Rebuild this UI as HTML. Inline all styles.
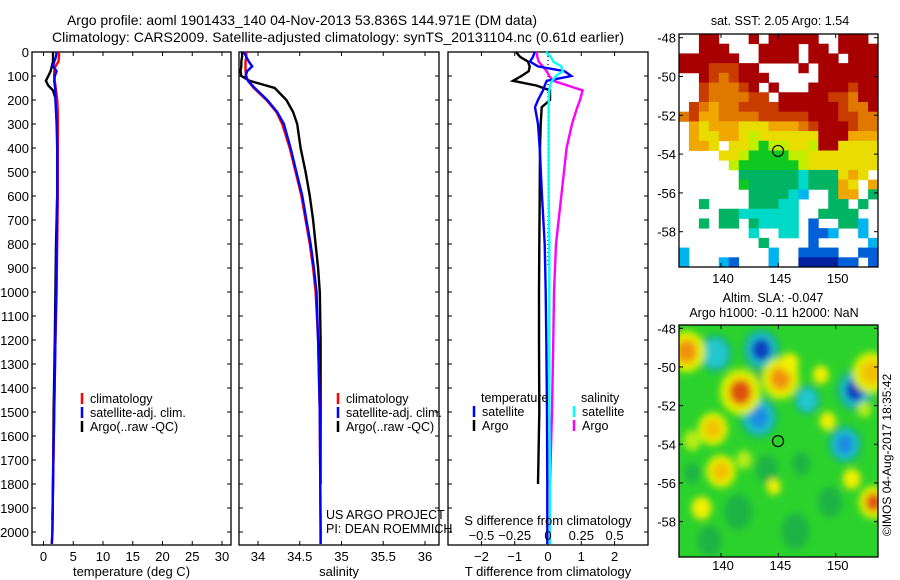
<!DOCTYPE html>
<html><head><meta charset="utf-8"><style>
html,body{margin:0;padding:0;background:#fff;}
svg{display:block;font-family:"Liberation Sans",sans-serif;}
</style></head><body>
<svg id="fig" width="900" height="580" viewBox="0 0 900 580" xmlns="http://www.w3.org/2000/svg">
<rect width="900" height="580" fill="#fff"/>
<defs>
<filter id="blur" x="-50%" y="-50%" width="200%" height="200%"><feGaussianBlur stdDeviation="3.5"/></filter>
<clipPath id="clipSla"><rect x="679" y="325" width="199" height="232"/></clipPath>
</defs>
<text x="302" y="25" font-size="14" text-anchor="middle">Argo profile: aoml 1901433_140 04-Nov-2013 53.836S 144.971E (DM data)</text>
<text x="338" y="42" font-size="14" text-anchor="middle" textLength="572">Climatology: CARS2009. Satellite-adjusted climatology: synTS_20131104.nc (0.61d earlier)</text>
<g id="plots"></g>
<g id="maps"></g>
<text transform="translate(891,455) rotate(-90)" font-size="12" text-anchor="middle">©IMOS 04-Aug-2017 18:35:42</text>
</svg>
<script>
// ---- data ----
const tDepth=[0,20,40,60,80,100,120,140,160,200,250,300,400,600,800,1000,1200,1500,1800,2000,2050];
const tClim=[2.6,2.6,2.5,2.0,1.8,1.8,1.9,2.0,2.1,2.3,2.4,2.4,2.4,2.4,2.3,2.2,2.0,1.8,1.6,1.5,1.4];
const tSat=[2.2,2.1,1.8,1.6,2.2,1.9,1.8,1.9,2.0,2.0,2.1,2.2,2.3,2.3,2.2,2.1,2.0,1.8,1.6,1.5,1.4];
const tArgoDepth=[0,20,40,60,80,100,120,140,160,200,250,300,400,600,800,1000,1200,1500,1800,1950];
const tArgo=[1.6,1.6,1.6,1.4,1.2,0.8,0.4,0.8,1.6,2.1,2.2,2.3,2.4,2.3,2.1,2.0,1.9,1.7,1.6,1.5];
const sDepth=[0,20,40,60,80,100,120,150,200,250,300,400,500,600,700,800,900,1000,1200,1500,2000,2050];
const sClim=[33.86,33.86,33.85,33.85,33.85,33.86,33.88,33.95,34.1,34.22,34.29,34.38,34.45,34.52,34.57,34.62,34.66,34.69,34.72,34.74,34.75,34.75];
const sSat=[33.83,33.86,33.89,33.93,33.87,33.85,33.88,33.96,34.11,34.23,34.31,34.39,34.46,34.53,34.58,34.63,34.67,34.7,34.72,34.74,34.75,34.75];
const sArgoDepth=[0,20,40,60,80,100,120,150,200,250,300,400,500,600,700,800,900,1000,1200,1500,1800];
const sArgo=[33.81,33.81,33.8,33.8,33.79,33.8,33.9,34.2,34.34,34.42,34.47,34.51,34.57,34.62,34.66,34.69,34.72,34.74,34.75,34.75,34.75];
const dDepth=[0,20,40,60,80,100,120,140,160,200,230,300,400,600,800,1000,1200,1500,1800,2000,2050];
const dTSat=[-0.4,-0.45,-0.54,-0.3,0.5,0.7,-0.04,-0.1,-0.15,-0.3,-0.39,-0.3,-0.25,-0.18,-0.1,-0.07,-0.05,-0.03,-0.02,-0.02,-0.02];
const dSSat=[-0.015,0.02,0.04,0.1,0.11,0.06,0.03,0.015,0.01,0.005,0.005,0.005,0.005,0.005,0.01,0.01,0.01,0.01,0.015,0.015,0.015];
const dArgoDepth=[0,20,40,60,80,100,120,140,160,200,230,300,400,600,800,1000,1200,1500,1800];
const dTArgo=[-0.96,-0.84,-0.6,-0.55,-0.58,-0.8,-1.05,-0.34,0.06,0.06,-0.19,-0.22,-0.24,-0.25,-0.26,-0.27,-0.27,-0.26,-0.3];
const dSArgo=[-0.085,-0.08,-0.07,-0.04,-0.01,0.01,0.04,0.15,0.26,0.24,0.22,0.18,0.14,0.1,0.06,0.045,0.04,0.03,0.015];
const depthTicks=[0,100,200,300,400,500,600,700,800,900,1000,1100,1200,1300,1400,1500,1600,1700,1800,1900,2000];
const tTicks=[0,5,10,15,20,25,30];
const sTicks=[34,34.5,35,35.5,36];
const sLabels=["34","34.5","35","35.5","36"];
const dTTicks=[-2,-1,0,1,2];
const dSTicks=[-0.5,-0.25,0,0.25,0.5];
const dSLabels=["\u22120.5","\u22120.25","0","0.25","0.5"];
const latTicks=[-48,-50,-52,-54,-56,-58];
const lonTicks=[140,145,150];
const argoLon=144.971, argoLat=-53.836;
const sstGrid=[
"..RR...R.RRRRR..RRR.",
"..RRR...RRRR.RR.RRRR",
"RRRRRR..RRRR.RRR.RRR",
"RRRrrrRR....R.RRRRRR",
"..RrorRRR.....RRRRRR",
"..rooorR.R...RRRRrRR",
"..roooorr.RRRRRrroRR",
".roOoorrrrRRRRRRrooR",
"orOOoooorrrrrRRRrroo",
".OyOOOyyyOOOorRRRroo",
".OyyOOylyyyyyyRRROOO",
".OOy.yylgllyylRRyyyy",
"....yylggggllyyyyyyy",
".....lgggggglyyyyyyy",
"......GGGGGGcGGGyOy.",
"......gGGGGGcGGGOy.O",
".......GGGGcb..GOO.G",
"..G....GGGcc...GG.G.",
"....GGcccccc..GGGG..",
"..G.GG.Gcccc.B..GGb.",
".......c..cc.BBb..b.",
"........G....B.....b",
"b........b..BBBB..BB",
"b...bB...b..DDDDBB.B"];
const sstColors={R:"#a80000",r:"#c83c00",o:"#e07800",O:"#f0a800",y:"#e8dc00",l:"#c0f000",g:"#10c820",G:"#00b464",c:"#00d8c8",b:"#00b4f0",B:"#0060d8",D:"#0020a0"};
// SLA anomaly features (lon, lat, value, radius px)
const slaLon=[143.5,139.5,151.7,143.3,147.5,150.8,141.7,145.2,137.0,153.1,153.3,148.7,139.3,140.0,149.3,151.4,138.3,144.6,142.0,146.0,137.5,152.5];
const slaLat=[-49.1,-49.3,-51.2,-52.6,-51.7,-54.0,-51.3,-50.6,-49.2,-50.3,-57.0,-50.4,-53.2,-55.4,-52.8,-55.8,-57.3,-56.2,-54.8,-49.8,-53.8,-52.2];
const slaVal=[-3,-1.6,-2.8,-2.3,-1.5,-2.2,2.7,2.4,2.0,1.8,2.9,1.4,1.5,1.6,1.2,1.3,1.0,1.2,0.8,1.0,0.8,0.8];
const slaRad=[10,9,10,10,7,9,11,10,10,10,8,8,8,8,8,9,10,7,8,9,9,7];
const darkLon=[141.5,146.5,144.0,149.5,139.0,147.0,143.5,137.5];
const darkLat=[-57.5,-58.5,-55.3,-57.0,-59.0,-55.0,-50.5,-55.5];
const darkRad=[14,14,11,12,12,9,8,8];

// ---- helpers ----
const NS="http://www.w3.org/2000/svg";
function mk(tag,attrs,parent,txt){const e=document.createElementNS(NS,tag);for(const k in attrs)e.setAttribute(k,attrs[k]);if(txt!==undefined)e.textContent=txt;parent.appendChild(e);return e;}
const plots=document.getElementById('plots');
const maps=document.getElementById('maps');
const Y0=52, PXM=0.24, BOT=545;
function yD(d){return Y0+d*PXM;}

function panel(name,x0,x1,xs,ticks,labels,title){
  const g=mk('g',{},plots);
  
  
  const fr=mk('rect',{x:x0,y:Y0,width:x1-x0,height:BOT-Y0,fill:'none',stroke:'#000','stroke-width':1.3},g);
  
  
  depthTicks.forEach(d=>{const y=yD(d);
    mk('line',{x1:x0,x2:x0+4,y1:y,y2:y,stroke:'#000'},g);
    mk('line',{x1:x1-4,x2:x1,y1:y,y2:y,stroke:'#000'},g);});
  ticks.forEach((v,i)=>{const x=xs(v);
    mk('line',{x1:x,x2:x,y1:Y0,y2:Y0+4,stroke:'#000'},g);
    mk('line',{x1:x,x2:x,y1:BOT-4,y2:BOT,stroke:'#000'},g);
    const t=mk('text',{x:x,y:561,'font-size':13,'text-anchor':'middle'},g,labels[i]);
    
    });
  const tt=mk('text',{x:(x0+x1)/2,y:576,'font-size':13,'text-anchor':'middle'},g,title);
  
  
  return g;
}
function series(g,name,xs,vals,depths,color,w){
  const pts=vals.map((v,i)=>xs(v).toFixed(1)+','+yD(depths[i]).toFixed(1)).join(' ');
  const p=mk('polyline',{points:pts,fill:'none',stroke:color,'stroke-width':w||2.4,'stroke-linejoin':'miter'},g);
  
  
}
function legendEntry(g,name,x,y,color,label){
  const e=mk('g',{},g);
  
  
  mk('line',{x1:x,x2:x,y1:y-10,y2:y+1,stroke:color,'stroke-width':2.5},e);
  mk('text',{x:x+8,y:y,'font-size':12.5},e,label);
}

depthTicks.forEach(d=>{const t=mk('text',{x:29,y:yD(d)+5,'font-size':13,'text-anchor':'end'},plots,String(d));
  
  });

// panel 1 temperature
const xT=v=>43.5+v*5.95;
const g1=panel('temperature-panel',32,231,xT,tTicks,tTicks.map(String),'temperature (deg C)');
series(g1,'temp-argo-line',xT,tArgo,tArgoDepth,'#000');
series(g1,'temp-climatology-line',xT,tClim,tDepth,'#f00');
series(g1,'temp-satellite-line',xT,tSat,tDepth,'#00f');
legendEntry(g1,'legend-climatology',82,403,'#f00','climatology');
legendEntry(g1,'legend-satellite-adj',82,417,'#00f','satellite-adj. clim.');
legendEntry(g1,'legend-argo',82,431,'#000','Argo(..raw -QC)');

// panel 2 salinity
const xS=v=>258+(v-34)*83.5;
const g2=panel('salinity-panel',239,439,xS,sTicks,sLabels,'salinity');
series(g2,'sal-argo-line',xS,sArgo,sArgoDepth,'#000');
series(g2,'sal-climatology-line',xS,sClim,sDepth,'#f00');
series(g2,'sal-satellite-line',xS,sSat,sDepth,'#00f');
legendEntry(g2,'legend-climatology-2',338,403,'#f00','climatology');
legendEntry(g2,'legend-satellite-adj-2',338,417,'#00f','satellite-adj. clim.');
legendEntry(g2,'legend-argo-2',338,431,'#000','Argo(..raw -QC)');
const us=mk('text',{x:326,y:519,'font-size':12.5},g2,'US ARGO PROJECT');


const pi=mk('text',{x:326,y:533,'font-size':12.5},g2,'PI: DEAN ROEMMICH');



// panel 3 differences
const xDT=v=>548+v*33.3;
const xDS=v=>548+v*133.2;
const g3=panel('difference-panel',448,648,xDT,dTTicks,dTTicks.map(v=>v<0?'\u2212'+(-v):String(v)),'T difference from climatology');
mk('line',{x1:548,x2:548,y1:yD(0),y2:yD(900),stroke:'#000','stroke-dasharray':'1,3','stroke-width':1.2},g3);
series(g3,'dT-argo-line',xDT,dTArgo,dArgoDepth,'#000');
series(g3,'dS-argo-line',xDS,dSArgo,dArgoDepth,'#f0f');
series(g3,'dT-satellite-line',xDT,dTSat,dDepth,'#00f');
series(g3,'dS-satellite-line',xDS,dSSat,dDepth,'#0ff');
dSTicks.forEach((v,i)=>{const t=mk('text',{x:xDS(v),y:540,'font-size':13,'text-anchor':'middle'},g3,dSLabels[i]);
  
  });
const st=mk('text',{x:548,y:525,'font-size':13,'text-anchor':'middle'},g3,'S difference from climatology');


const lt=mk('text',{x:481,y:402,'font-size':12.5},g3,'temperature');


const ls=mk('text',{x:581,y:402,'font-size':12.5},g3,'salinity');


legendEntry(g3,'legend-t-satellite',474,416,'#00f','satellite');
legendEntry(g3,'legend-t-argo',474,430,'#000','Argo');
legendEntry(g3,'legend-s-satellite',574,416,'#0ff','satellite');
legendEntry(g3,'legend-s-argo',574,430,'#f0f','Argo');

// ---- maps ----
const MX0=679,MX1=878;
const lonX=v=>721+(v-140)*11.47;
function mapFrame(name,yTop,yBot,latY,lonLabelY){
  const g=mk('g',{},maps);
  
  
  mk('rect',{x:MX0,y:yTop,width:MX1-MX0,height:yBot-yTop,fill:'none',stroke:'#000','stroke-width':1.3},g);
  latTicks.forEach(l=>{const y=latY(l);
    mk('line',{x1:MX0,x2:MX0+4,y1:y,y2:y,stroke:'#000'},g);
    mk('line',{x1:MX1-4,x2:MX1,y1:y,y2:y,stroke:'#000'},g);
    const t=mk('text',{x:676,y:y+5,'font-size':13,'text-anchor':'end'},g,String(l));
    
    });
  lonTicks.forEach(l=>{const x=lonX(l);
    mk('line',{x1:x,x2:x,y1:yTop,y2:yTop+4,stroke:'#000'},g);
    mk('line',{x1:x,x2:x,y1:yBot-4,y2:yBot,stroke:'#000'},g);
    const t=mk('text',{x:x+2,y:lonLabelY,'font-size':13,'text-anchor':'middle'},g,String(l));
    
    });
}
// SST map
const sstY=l=>37.7+(-48-l)*19.4;
const sg=mk('g',{},maps);


const cw=(MX1-MX0)/20, ch=(267-34)/24;
sstGrid.forEach((row,r)=>{for(let c=0;c<row.length;c++){const k=row[c];if(k==='.')continue;
  mk('rect',{x:(MX0+c*cw).toFixed(2),y:(34+r*ch).toFixed(2),width:(cw+0.4).toFixed(2),height:(ch+0.4).toFixed(2),fill:sstColors[k]},sg);}});
mk('circle',{cx:lonX(argoLon),cy:sstY(argoLat),r:5.5,fill:'none',stroke:'#000','stroke-width':1.2},sg);
mapFrame('sst-map',34,267,sstY,283);
const sstT=mk('text',{x:780,y:25,'font-size':12.5,'text-anchor':'middle'},maps,'sat. SST: 2.05 Argo: 1.54');



// SLA map
const slaY=l=>328.3+(-48-l)*19.33;
const lg=mk('g',{'clip-path':'url(#clipSla)'},maps);


mk('rect',{x:MX0,y:325,width:MX1-MX0,height:232,fill:'#2cd22c'},lg);
const bg=mk('g',{filter:'url(#blur)'},lg);
darkLon.forEach((lo,i)=>{
  const e=mk('ellipse',{cx:lonX(lo),cy:slaY(darkLat[i]),rx:darkRad[i],ry:darkRad[i]*1.3,fill:'#1cb444'},bg);
  
  
});
function slaColor(v){if(v<=-2.5)return'#1040c0';if(v<=-1.8)return'#1c8ce0';if(v<=-1.2)return'#20c8d0';if(v<0)return'#18b050';if(v<0.9)return'#b4ec18';if(v<1.5)return'#f0f000';if(v<2.0)return'#f0c000';if(v<2.5)return'#f09010';return'#e05010';}
slaLon.forEach((lo,i)=>{
  const cx=lonX(lo), cy=slaY(slaLat[i]);
  const v=slaVal[i];
  const r=slaRad[i];
  if(Math.abs(v)>1.4){
    mk('ellipse',{cx:cx,cy:cy,rx:r*1.9,ry:r*2.1,fill:v<0?'#18b478':'#c8f000'},bg);
    mk('ellipse',{cx:cx,cy:cy,rx:r*1.4,ry:r*1.6,fill:v<0?'#20c8d0':'#f0e800'},bg);
  }
  const e=mk('ellipse',{cx:cx,cy:cy,rx:r,ry:r*1.15,fill:slaColor(v)},bg);
  
  
});
mk('circle',{cx:lonX(argoLon),cy:slaY(argoLat),r:5.5,fill:'none',stroke:'#000','stroke-width':1.2},lg);
mapFrame('sla-map',325,557,slaY,570);
const a1=mk('text',{x:773,y:302,'font-size':12.5,'text-anchor':'middle'},maps,'Altim. SLA: -0.047');


const a2=mk('text',{x:774,y:317,'font-size':12.5,'text-anchor':'middle'},maps,'Argo h1000: -0.11 h2000: NaN');


</script>
</body></html>
